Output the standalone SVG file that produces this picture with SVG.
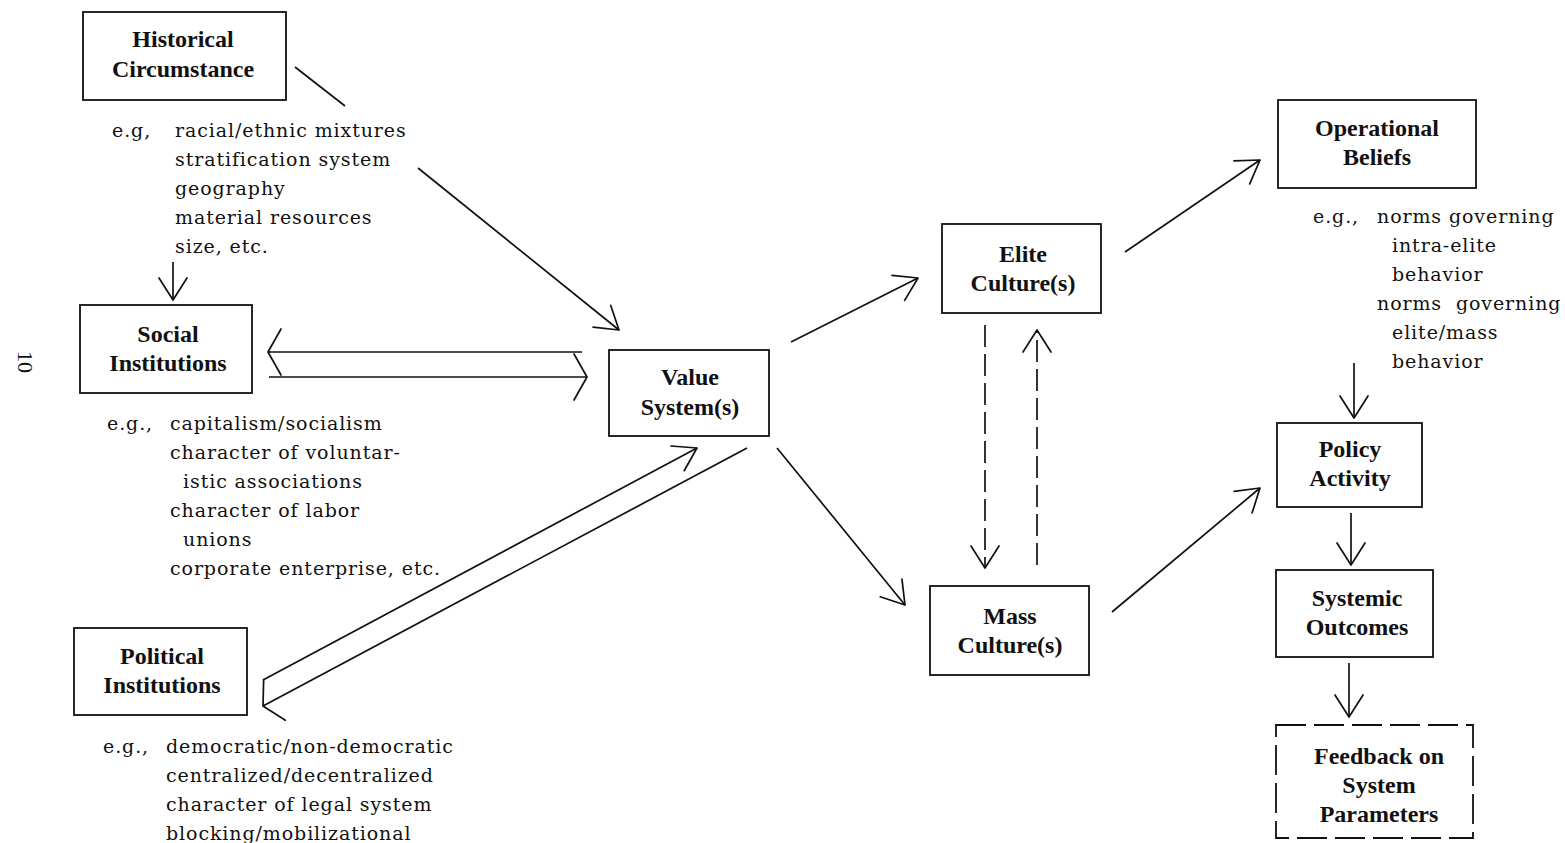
<svg xmlns="http://www.w3.org/2000/svg" width="1565" height="843" viewBox="0 0 1565 843">
<style>
.box{fill:#fff;stroke:#111;stroke-width:1.8}
.dbox{fill:#fff;stroke:#111;stroke-width:1.8;stroke-dasharray:30 8}
.lbl{font-family:"Liberation Serif",serif;font-weight:bold;font-size:24px;fill:#111;text-anchor:middle}
.eg{font-family:"DejaVu Serif",serif;font-size:19px;letter-spacing:0.9px;fill:#111}
.ln{fill:none;stroke:#111;stroke-width:1.7}
.dl{fill:none;stroke:#111;stroke-width:1.7;stroke-dasharray:22 7}
.pg{font-family:"Liberation Serif",serif;font-size:22px;fill:#111;text-anchor:middle}
</style>
<defs>
<marker id="arr" markerUnits="userSpaceOnUse" viewBox="-30 -20 34 40" markerWidth="34" markerHeight="40" refX="0" refY="0" orient="auto" overflow="visible">
<path d="M-22,-14 L0,0 L-22,14" fill="none" stroke="#111" stroke-width="1.7" stroke-linecap="round" stroke-linejoin="round"/>
</marker>
<marker id="arrw" markerUnits="userSpaceOnUse" viewBox="-30 -30 34 60" markerWidth="34" markerHeight="60" refX="0" refY="0" orient="auto" overflow="visible">
<path d="M-13,-23 L0,0 L-13,23" fill="none" stroke="#111" stroke-width="1.7" stroke-linecap="round" stroke-linejoin="round"/>
</marker>
</defs>
<rect width="1565" height="843" fill="#fff"/>

<text class="pg" transform="translate(18,362) rotate(90)">10</text>

<g id="connectors">
<line class="ln" x1="295" y1="67" x2="345" y2="106"/>
<line class="ln" x1="418" y1="168" x2="619" y2="330" marker-end="url(#arr)"/>
<line class="ln" x1="173" y1="262" x2="173" y2="300" marker-end="url(#arr)"/>
<line class="ln" x1="582" y1="352" x2="268" y2="352" marker-end="url(#arrw)"/>
<line class="ln" x1="269" y1="377" x2="587" y2="377" marker-end="url(#arrw)"/>
<line class="ln" x1="263" y1="680" x2="697" y2="448" marker-end="url(#arr)"/>
<line class="ln" x1="747" y1="448" x2="263" y2="706" marker-end="url(#arrw)"/>
<line class="ln" x1="791" y1="342" x2="918" y2="278" marker-end="url(#arr)"/>
<line class="ln" x1="777" y1="448" x2="905" y2="605" marker-end="url(#arr)"/>
<line class="dl" x1="985" y1="325" x2="985" y2="568" marker-end="url(#arr)"/>
<line class="dl" x1="1037" y1="565" x2="1037" y2="330" marker-end="url(#arr)"/>
<line class="ln" x1="1125" y1="252" x2="1260" y2="160" marker-end="url(#arr)"/>
<line class="ln" x1="1112" y1="612" x2="1260" y2="488" marker-end="url(#arr)"/>
<line class="ln" x1="1354" y1="363" x2="1354" y2="418" marker-end="url(#arr)"/>
<line class="ln" x1="1351" y1="513" x2="1351" y2="565" marker-end="url(#arr)"/>
<line class="ln" x1="1349" y1="663" x2="1349" y2="717" marker-end="url(#arr)"/>
</g>

<g id="historical">
<rect class="box" x="83" y="12" width="203" height="88"/>
<text class="lbl" x="183" y="47">Historical</text>
<text class="lbl" x="183" y="77">Circumstance</text>
<text class="eg" x="112" y="137">e.g,</text>
<text class="eg" x="175" y="137">racial/ethnic mixtures</text>
<text class="eg" x="175" y="166">stratification system</text>
<text class="eg" x="175" y="195">geography</text>
<text class="eg" x="175" y="224">material resources</text>
<text class="eg" x="175" y="253">size, etc.</text>
</g>

<g id="social">
<rect class="box" x="80" y="305" width="172" height="88"/>
<text class="lbl" x="168" y="342">Social</text>
<text class="lbl" x="168" y="371">Institutions</text>
<text class="eg" x="107" y="430">e.g.,</text>
<text class="eg" x="170" y="430">capitalism/socialism</text>
<text class="eg" x="170" y="459">character of voluntar-</text>
<text class="eg" x="183" y="488">istic associations</text>
<text class="eg" x="170" y="517">character of labor</text>
<text class="eg" x="183" y="546">unions</text>
<text class="eg" x="170" y="575">corporate enterprise, etc.</text>
</g>

<g id="political">
<rect class="box" x="74" y="628" width="173" height="87"/>
<text class="lbl" x="162" y="664">Political</text>
<text class="lbl" x="162" y="693">Institutions</text>
<text class="eg" x="103" y="753">e.g.,</text>
<text class="eg" x="166" y="753">democratic/non-democratic</text>
<text class="eg" x="166" y="782">centralized/decentralized</text>
<text class="eg" x="166" y="811">character of legal system</text>
<text class="eg" x="166" y="840">blocking/mobilizational</text>
</g>

<g id="value">
<rect class="box" x="609" y="350" width="160" height="86"/>
<text class="lbl" x="690" y="385">Value</text>
<text class="lbl" x="690" y="415">System(s)</text>
</g>

<g id="elite">
<rect class="box" x="942" y="224" width="159" height="89"/>
<text class="lbl" x="1023" y="262">Elite</text>
<text class="lbl" x="1023" y="291">Culture(s)</text>
</g>

<g id="mass">
<rect class="box" x="930" y="586" width="159" height="89"/>
<text class="lbl" x="1010" y="624">Mass</text>
<text class="lbl" x="1010" y="653">Culture(s)</text>
</g>

<g id="operational">
<rect class="box" x="1278" y="100" width="198" height="88"/>
<text class="lbl" x="1377" y="136">Operational</text>
<text class="lbl" x="1377" y="165">Beliefs</text>
<text class="eg" x="1313" y="223">e.g.,</text>
<text class="eg" x="1377" y="223">norms governing</text>
<text class="eg" x="1392" y="252">intra-elite</text>
<text class="eg" x="1392" y="281">behavior</text>
<text class="eg" x="1377" y="310" xml:space="preserve">norms  governing</text>
<text class="eg" x="1392" y="339">elite/mass</text>
<text class="eg" x="1392" y="368">behavior</text>
</g>

<g id="policy">
<rect class="box" x="1277" y="423" width="145" height="84"/>
<text class="lbl" x="1350" y="457">Policy</text>
<text class="lbl" x="1350" y="486">Activity</text>
</g>

<g id="systemic">
<rect class="box" x="1276" y="570" width="157" height="87"/>
<text class="lbl" x="1357" y="606">Systemic</text>
<text class="lbl" x="1357" y="635">Outcomes</text>
</g>

<g id="feedback">
<rect class="dbox" x="1276" y="725" width="197" height="113"/>
<text class="lbl" x="1379" y="764">Feedback on</text>
<text class="lbl" x="1379" y="793">System</text>
<text class="lbl" x="1379" y="822">Parameters</text>
</g>
</svg>
